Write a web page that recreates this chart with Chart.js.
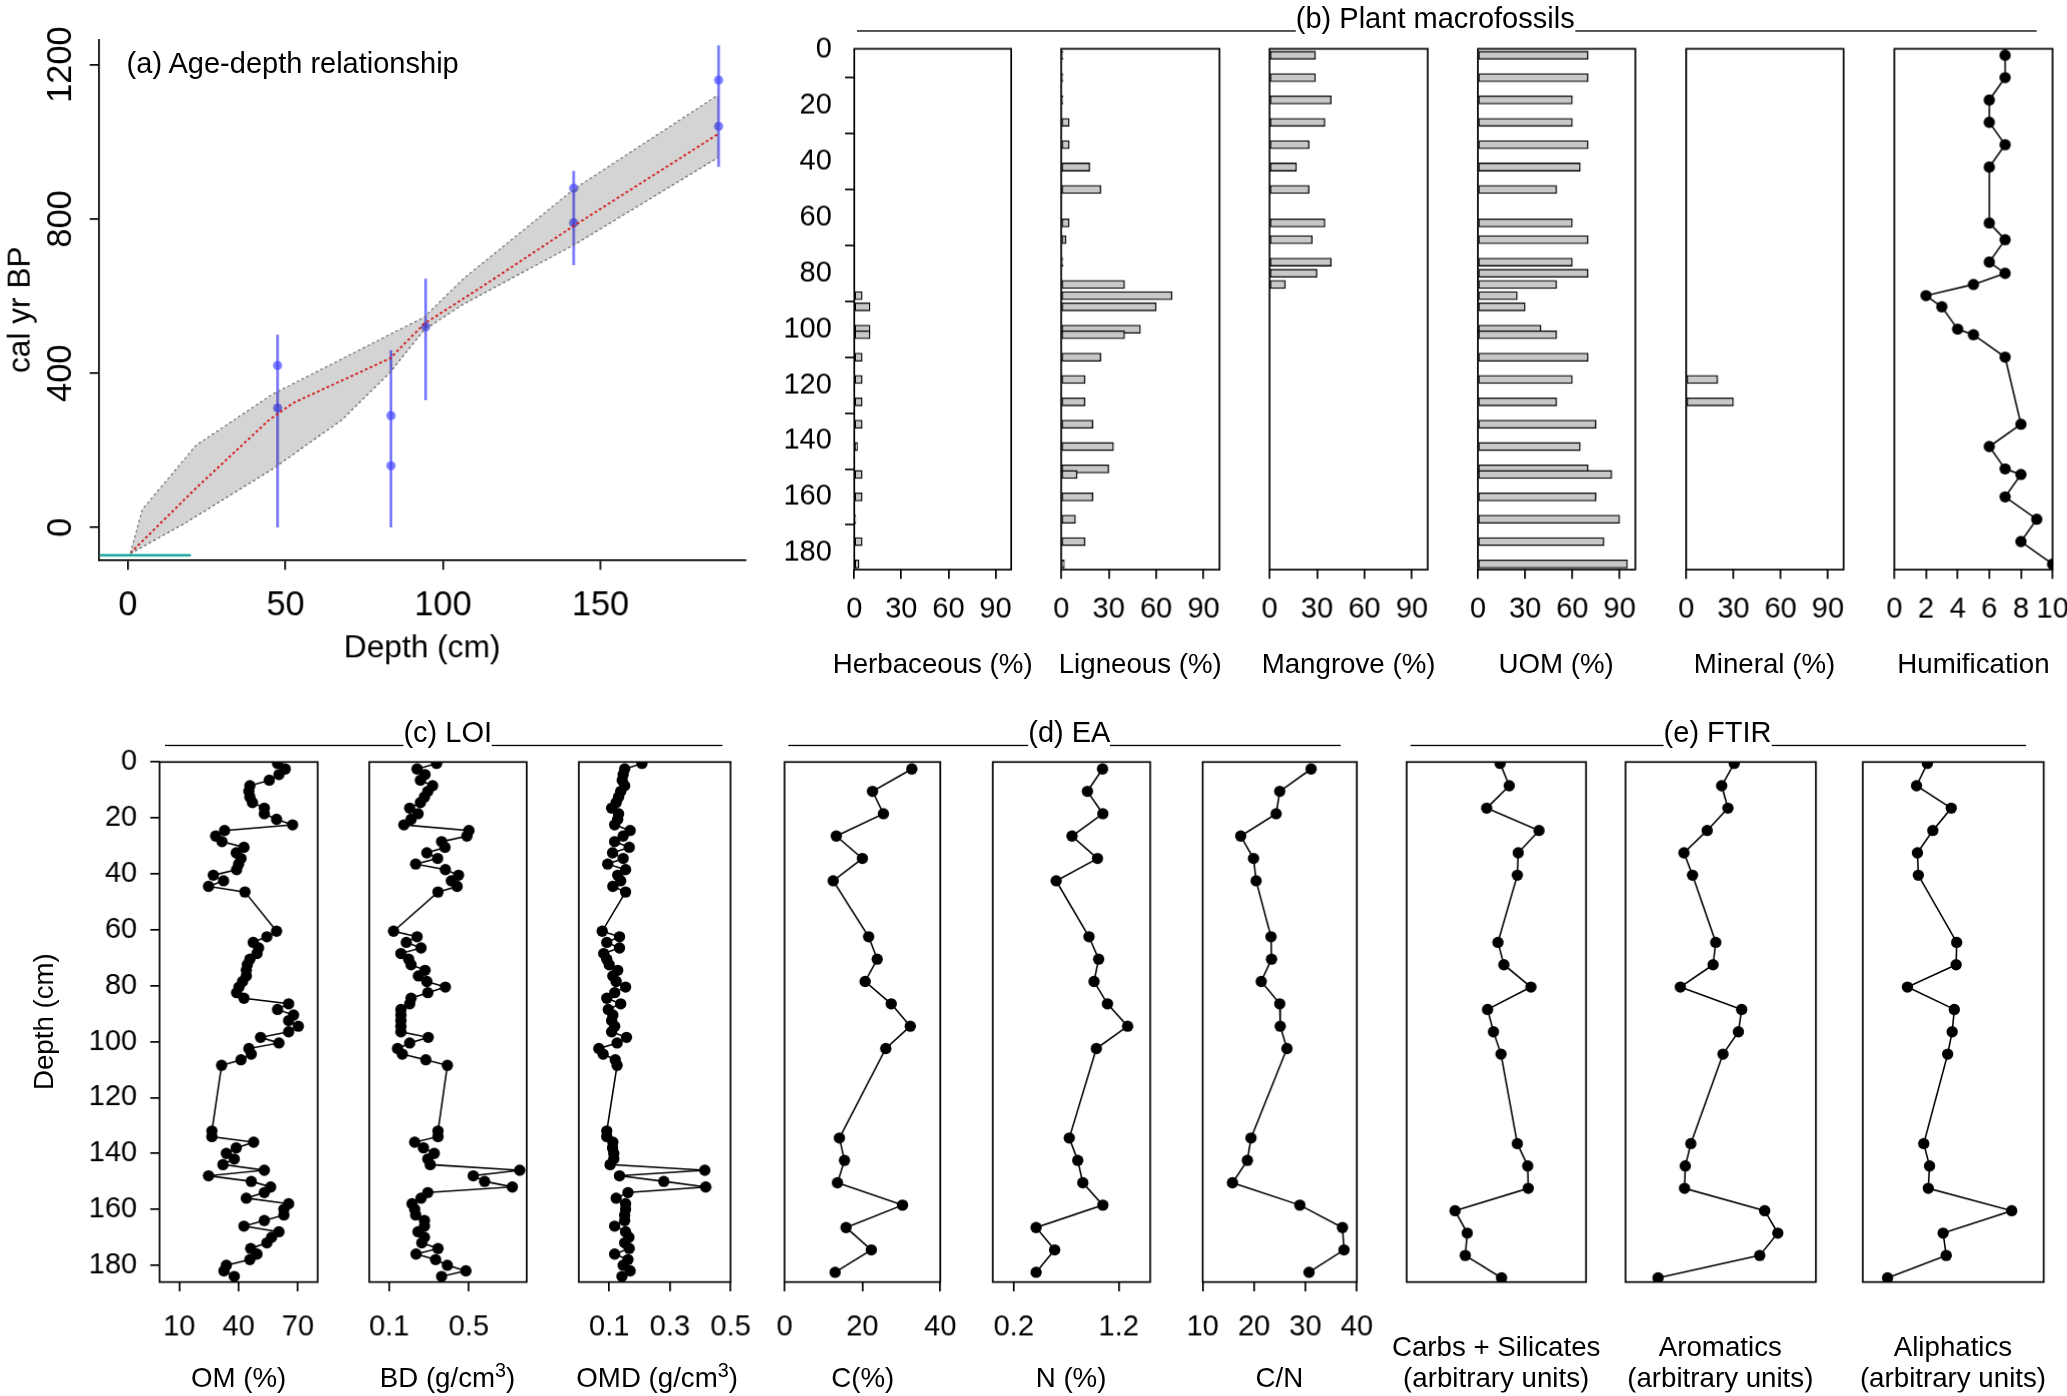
<!DOCTYPE html>
<html>
<head>
<meta charset="utf-8">
<script src="https://cdn.jsdelivr.net/npm/chart.js@4.4.1/dist/chart.umd.min.js"></script>
<style>
  body { margin: 0; background: #fff; overflow: hidden; }
  #fig { position: absolute; left: 0; top: 0; width: 1568px; height: 1060px; transform-origin: 0 0; font-family: "Liberation Sans", Arial, sans-serif; }
  #fig canvas { position: absolute; }
  .sec { position: absolute; display: flex; align-items: flex-end; height: 28px; font-size: 22px; line-height: 28px; }
  .sec .ln { border-bottom: 1.5px solid #000; margin-bottom: 4px; height: 0; }
  .lbl { position: absolute; font-size: 21px; line-height: 23px; white-space: nowrap; text-align: center; transform: translate(-50%, -50%); }
  .lbl sup { font-size: 15px; line-height: 0; }
</style>
</head>
<body>
<div id="fig"></div>
<script>
// ---- (a) age-depth model ----
const meanDepth = [0.8, 21.6, 44.8, 52.5, 83.3, 94, 114, 141.7, 187.5];
const meanAge = [-66, 102, 279, 323, 439, 528, 633, 783, 1021];
const upperDepth = [0.8, 4.6, 21.6, 46, 83, 94, 106.5, 141.7, 187.5];
const upperAge = [-66, 47, 213, 346, 500, 545, 645, 878, 1122];
const lowerDepth = [0.8, 18.5, 46, 67.9, 83, 94, 106.5, 141.7, 187.5];
const lowerAge = [-68, 13, 152, 279, 400, 512, 579, 733, 960];
const dateDepth = [47.5, 83.5, 94.5, 141.5, 187.5];
const dateMin = [0, 0, 330, 680, 935];
const dateMax = [500, 460, 645, 925, 1250];
const blobDepth = [47.5, 47.5, 83.5, 83.5, 94.5, 141.5, 141.5, 187.5, 187.5];
const blobAge = [310, 420, 160, 290, 520, 790, 880, 1040, 1160];
const surfaceDepth = [-9, 20];
const surfaceAge = [-72, -72];
const ageTicks = [0, 400, 800, 1200];
const depthTicksA = [0, 50, 100, 150];

// ---- (b) plant macrofossils ----
const macroDepth = [2, 10, 18, 26, 34, 42, 50, 62, 68, 76, 80, 84, 88, 92, 100, 102, 110, 118, 126, 134, 142, 150, 152, 160, 168, 176, 184];
const herbaceous = [0, 0, 0, 0, 0, 0, 0, 0, 0, 0, 0, 0, 5, 10, 10, 10, 5, 5, 5, 5, 2, 0, 5, 5, 1, 5, 3];
const ligneous = [1, 1, 1, 5, 5, 18, 25, 5, 3, 1, 0, 40, 70, 60, 50, 40, 25, 15, 15, 20, 33, 30, 10, 20, 9, 15, 2];
const mangrove = [29, 29, 39, 35, 25, 17, 25, 35, 27, 39, 30, 10, 0, 0, 0, 0, 0, 0, 0, 0, 0, 0, 0, 0, 0, 0, 0];
const uom = [70, 70, 60, 60, 70, 65, 50, 60, 70, 60, 70, 50, 25, 30, 40, 50, 70, 60, 50, 75, 65, 70, 85, 75, 90, 80, 95];
const mineral = [0, 0, 0, 0, 0, 0, 0, 0, 0, 0, 0, 0, 0, 0, 0, 0, 0, 20, 30, 0, 0, 0, 0, 0, 0, 0, 0];
const humDepth = [2, 10, 18, 26, 34, 42, 62, 68, 76, 80, 84, 88, 92, 100, 102, 110, 134, 142, 150, 152, 160, 168, 176, 184];
const humification = [7, 7, 6, 6, 7, 6, 6, 7, 6, 7, 5, 2, 3, 4, 5, 7, 8, 6, 7, 8, 7, 9, 8, 10];
const pctTicks = [0, 30, 60, 90];
const humTicks = [0, 2, 4, 6, 8, 10];
const depthTicks = [0, 20, 40, 60, 80, 100, 120, 140, 160, 180];

// ---- (c) LOI ----
const loiDepth = [0.5, 2.5, 4.5, 6.5, 8.5, 10.5, 12.5, 14.5, 16.5, 18.5, 20.5, 22.5, 24.5, 26.5, 28.5, 30.5, 32.5, 34.5, 36.5, 38.5, 40.5, 42.5, 44.5, 46.5,
  60.5, 62.5, 64.5, 66.5, 68.5, 70.5, 72.5, 74.5, 76.5, 78.5, 80.5, 82.5, 84.5, 86.5, 88.5, 90.5, 92.5, 94.5, 96.5, 98.5, 100.5, 102.5, 104.5, 106.5, 108.5,
  132, 134, 136, 138, 140, 142, 144, 146, 148, 150, 152, 154, 156, 158, 160, 162, 164, 166, 168, 170, 172, 174, 176, 178, 180, 182, 184];
const om = [59.7, 63.6, 60.4, 55.5, 45.7, 45.2, 45.7, 47, 53, 53, 59.2, 67.3, 32.9, 28.4, 31.6, 42.7, 38.8, 41.2, 40, 39, 27.2, 32.4, 24.8, 43.2,
  59.2, 54.3, 47.4, 50.1, 49.3, 45.7, 44.4, 43.9, 43.9, 42, 40.2, 39, 42.7, 65.3, 59.7, 67.8, 65.3, 70.2, 65.3, 51.1, 60.4, 45.2, 46.4, 41.2, 31.4,
  26.5, 26.5, 47.6, 38.8, 33.8, 37.8, 32.1, 53, 24.8, 46.4, 56.2, 53, 43.9, 65.3, 62.9, 62.9, 53, 42.7, 60.4, 56.7, 54.3, 46.1, 49.3, 45.7, 33.8, 32.6, 37.8];
const bd = [0.338, 0.24, 0.28, 0.257, 0.318, 0.294, 0.277, 0.257, 0.203, 0.245, 0.21, 0.174, 0.5, 0.49, 0.363, 0.38, 0.289, 0.343, 0.233, 0.382, 0.448, 0.412, 0.441, 0.345,
  0.122, 0.24, 0.186, 0.26, 0.159, 0.198, 0.21, 0.28, 0.247, 0.289, 0.382, 0.294, 0.21, 0.203, 0.159, 0.159, 0.159, 0.159, 0.159, 0.296, 0.203, 0.142, 0.166, 0.284, 0.392,
  0.345, 0.345, 0.228, 0.272, 0.326, 0.294, 0.306, 0.755, 0.522, 0.579, 0.718, 0.294, 0.26, 0.215, 0.228, 0.233, 0.277, 0.277, 0.245, 0.277, 0.264, 0.345, 0.235, 0.333, 0.392, 0.485, 0.363];
const omd = [0.208, 0.151, 0.146, 0.143, 0.151, 0.138, 0.131, 0.123, 0.108, 0.131, 0.128, 0.118, 0.169, 0.146, 0.118, 0.166, 0.111, 0.146, 0.095, 0.154, 0.128, 0.138, 0.112, 0.154,
  0.077, 0.134, 0.092, 0.134, 0.082, 0.092, 0.1, 0.128, 0.112, 0.123, 0.154, 0.118, 0.092, 0.138, 0.097, 0.112, 0.108, 0.118, 0.108, 0.157, 0.126, 0.066, 0.08, 0.12, 0.126,
  0.092, 0.092, 0.112, 0.111, 0.115, 0.115, 0.103, 0.415, 0.134, 0.28, 0.418, 0.162, 0.123, 0.154, 0.154, 0.151, 0.151, 0.118, 0.154, 0.165, 0.151, 0.166, 0.118, 0.162, 0.146, 0.169, 0.142];

// ---- (d) EA ----
const eaDepth = [2.5, 10.5, 18.5, 26.5, 34.5, 42.5, 62.5, 70.5, 78.5, 86.5, 94.5, 102.5, 134.5, 142.5, 150.5, 158.5, 166.5, 174.5, 182.5];
const carbon = [32.7, 22.6, 25.4, 13.3, 20, 12.5, 21.6, 23.8, 20.7, 27.4, 32.3, 26, 14.1, 15.4, 13.6, 30.3, 15.8, 22.3, 13];
const nitrogen = [1.046, 0.902, 1.049, 0.755, 0.998, 0.604, 0.917, 1.009, 0.965, 1.093, 1.285, 0.987, 0.729, 0.81, 0.858, 1.049, 0.413, 0.59, 0.413];
const cnRatio = [31.1, 25, 24.3, 17.4, 19.9, 20.4, 23.3, 23.4, 21.4, 25, 25.1, 26.4, 19.4, 18.7, 15.8, 28.9, 37.2, 37.5, 30.7];

// ---- (e) FTIR ----
const ftirDepth = [0.5, 8.5, 16.5, 24.5, 32.5, 40.5, 64.5, 72.5, 80.5, 88.5, 96.5, 104.5, 136.5, 144.5, 152.5, 160.5, 168.5, 176.5, 184.5];
const carbsSilicates = [52.1, 57.2, 44.6, 73.8, 62.2, 61.7, 50.9, 54.2, 69.3, 45.1, 48.4, 52.6, 61.7, 67.5, 67.8, 27, 33.8, 32.7, 52.9];
const aromatics = [57.1, 50.5, 53.8, 42.9, 30.7, 35.2, 47.4, 46, 28.8, 61, 59.3, 51.2, 34.3, 31.4, 31, 73.1, 80, 70.5, 17.1];
const aliphatics = [35.7, 29.7, 48.9, 38.7, 30.2, 30.7, 51.9, 51.6, 24.7, 50.6, 49.4, 46.9, 33.7, 36.9, 36.2, 82.3, 44.4, 46.1, 13.7];

// layout is written in a 1568 x 1060 frame and scaled up to the window
const S = 2067 / 1568;
const DPR = S * (window.devicePixelRatio || 1);
const fig = document.getElementById('fig');
fig.style.transform = 'scale(' + S + ')';
Chart.defaults.font.family = '"Liberation Sans", Arial, sans-serif';
Chart.defaults.color = '#000';
Chart.defaults.animation = false;

const zip = (ys, xs) => xs.map((v, i) => ({ x: v, y: ys[i] }));
const fixedTicks = arr => s => { s.ticks = arr.map(v => ({ value: v })); };

const frame = {
  id: 'frame',
  afterDraw(chart, args, opts) {
    if (!opts.on) return;
    const a = chart.chartArea, ctx = chart.ctx;
    ctx.save();
    ctx.strokeStyle = '#000';
    ctx.lineWidth = 1.3;
    ctx.strokeRect(a.left, a.top, a.right - a.left, a.bottom - a.top);
    ctx.restore();
  }
};

// R-style y tick labels, turned to read upwards
const uprightY = {
  id: 'uprightY',
  afterDraw(chart, args, opts) {
    if (!opts.on) return;
    const y = chart.scales.y, ctx = chart.ctx;
    ctx.save();
    ctx.font = '26px "Liberation Sans", Arial, sans-serif';
    ctx.fillStyle = '#000';
    ctx.textAlign = 'center';
    ctx.textBaseline = 'middle';
    y.ticks.forEach(t => {
      ctx.save();
      ctx.translate(opts.x, y.getPixelForValue(t.value));
      ctx.rotate(-Math.PI / 2);
      ctx.fillText(String(t.value), 0, 0);
      ctx.restore();
    });
    ctx.restore();
  }
};

function addCanvas(left, top, w, h) {
  const c = document.createElement('canvas');
  c.style.left = left + 'px';
  c.style.top = top + 'px';
  c.style.width = w + 'px';
  c.style.height = h + 'px';
  c.width = w; c.height = h;
  fig.appendChild(c);
  return c;
}

function lbl(cx, cy, html, size) {
  const d = document.createElement('div');
  d.className = 'lbl';
  d.style.left = cx + 'px';
  d.style.top = cy + 'px';
  if (size) d.style.fontSize = size + 'px';
  d.innerHTML = html;
  fig.appendChild(d);
}

function sec(x1, x2, y, text, leftLen) {
  const d = document.createElement('div');
  d.className = 'sec';
  d.style.left = x1 + 'px';
  d.style.top = y + 'px';
  d.style.width = (x2 - x1) + 'px';
  d.innerHTML = '<div class="ln" style="width:' + leftLen + 'px"></div><span>' + text + '</span><div class="ln" style="flex:1"></div>';
  fig.appendChild(d);
}

// one depth profile panel, box = [left, top, right, bottom]
function profile(p) {
  const [x1, y1, x2, y2] = p.box;
  const L = p.L || 25, R = 25, T = 26, B = 60;
  const c = addCanvas(x1 - L, y1 - T, x2 - x1 + L + R, y2 - y1 + T + B);
  const isBar = p.kind === 'bar';
  const showY = !!p.yLabels;
  new Chart(c, {
    type: isBar ? 'bar' : 'scatter',
    data: { datasets: p.datasets },
    options: {
      responsive: false,
      devicePixelRatio: DPR,
      indexAxis: isBar ? 'y' : 'x',
      layout: { padding: { left: 0, right: R, top: T, bottom: 0 } },
      plugins: { legend: { display: false }, tooltip: { enabled: false }, frame: { on: true } },
      scales: {
        x: {
          type: 'linear', min: p.xMin, max: p.xMax, offset: false,
          afterBuildTicks: fixedTicks(p.xTicks),
          afterFit: s => { s.height = B; },
          grid: { drawOnChartArea: false, drawTicks: p.xTicks.length > 0, tickLength: 7, color: '#000', lineWidth: 1.3 },
          border: { display: false },
          ticks: { display: p.xTicks.length > 0, font: { size: 22 }, padding: p.tickPad, maxRotation: 0, autoSkip: false }
        },
        y: {
          type: 'linear', reverse: true, min: p.yMin, max: 186, offset: false,
          afterBuildTicks: fixedTicks(depthTicks),
          afterFit: s => { s.width = L; },
          grid: { display: showY, drawOnChartArea: false, tickLength: 7, color: '#000', lineWidth: 1.3 },
          border: { display: false },
          ticks: { display: showY, font: { size: 22 }, padding: 10, autoSkip: false }
        }
      }
    },
    plugins: [frame]
  });
  lbl((x1 + x2) / 2, p.titleY, p.xTitle);
}

function bars(depths, values) {
  return [{
    data: zip(depths, values).filter(d => d.x > 0),
    backgroundColor: '#c8c8c8', borderColor: '#000', borderWidth: 1,
    barThickness: 6, borderSkipped: false
  }];
}
function dots(depths, values) {
  return [{
    data: zip(depths, values), showLine: true,
    borderColor: '#000', borderWidth: 1.2,
    pointRadius: 4.3, pointBackgroundColor: '#000', pointBorderWidth: 0
  }];
}

// ---- panel (a) ----
(function () {
  const c = addCanvas(0, 0, 580, 510);
  const ds = [
    { data: zip(upperAge, upperDepth), showLine: true, pointRadius: 0, borderColor: '#777', borderWidth: 1, borderDash: [2, 2], fill: '+1', backgroundColor: 'rgba(0,0,0,0.17)' },
    { data: zip(lowerAge, lowerDepth), showLine: true, pointRadius: 0, borderColor: '#777', borderWidth: 1, borderDash: [2, 2] },
    { data: zip(meanAge, meanDepth), showLine: true, pointRadius: 0, borderColor: '#ff2020', borderWidth: 1.5, borderDash: [2, 2] }
  ];
  dateDepth.forEach((d, i) => {
    ds.push({ data: [{ x: d, y: dateMin[i] }, { x: d, y: dateMax[i] }], showLine: true, pointRadius: 0, borderColor: 'rgba(70,70,255,0.75)', borderWidth: 2 });
  });
  ds.push({ data: zip(blobAge, blobDepth), pointRadius: 3.5, pointBackgroundColor: 'rgba(70,70,255,0.7)', pointBorderWidth: 0 });
  ds.push({ data: zip(surfaceAge, surfaceDepth), showLine: true, pointRadius: 0, borderColor: '#20a8a0', borderWidth: 2 });
  new Chart(c, {
    type: 'scatter',
    data: { datasets: ds },
    options: {
      responsive: false,
      devicePixelRatio: DPR,
      layout: { padding: { left: 0, right: 15, top: 30, bottom: 0 } },
      plugins: { legend: { display: false }, tooltip: { enabled: false }, uprightY: { on: true, x: 47 } },
      scales: {
        x: {
          type: 'linear', min: -9.2, max: 196,
          afterBuildTicks: fixedTicks(depthTicksA),
          afterFit: s => { s.height = 85; },
          grid: { drawOnChartArea: false, tickLength: 7, color: '#000', lineWidth: 1.3 },
          border: { display: true, color: '#000', width: 1.3 },
          ticks: { font: { size: 26 }, padding: 12, maxRotation: 0 },
          title: { display: true, text: 'Depth (cm)', font: { size: 24 }, padding: { top: 0 } }
        },
        y: {
          type: 'linear', min: -85.5, max: 1265,
          afterBuildTicks: fixedTicks(ageTicks),
          afterFit: s => { s.width = 75; },
          grid: { drawOnChartArea: false, tickLength: 7, color: '#000', lineWidth: 1.3 },
          border: { display: true, color: '#000', width: 1.3 },
          ticks: { display: false },
          title: { display: false }
        }
      }
    },
    plugins: [uprightY]
  });
  lbl(222, 48, '(a) Age-depth relationship', 22);
  const yt = document.createElement('div');
  yt.className = 'lbl';
  yt.style.left = '14px'; yt.style.top = '235px'; yt.style.fontSize = '24px';
  yt.style.transform = 'translate(-50%, -50%) rotate(-90deg)';
  yt.textContent = 'cal yr BP';
  fig.appendChild(yt);
})();

// ---- panel (b) ----
const topRow = { yMin: -0.3, tickPad: 10, titleY: 503 };
profile({ ...topRow, box: [648, 37, 767, 432], L: 70, yLabels: true, kind: 'bar', xMin: 0, xMax: 100, xTicks: pctTicks, xTitle: 'Herbaceous (%)', datasets: bars(macroDepth, herbaceous) });
profile({ ...topRow, box: [805, 37, 925, 432], kind: 'bar', xMin: 0, xMax: 100, xTicks: pctTicks, xTitle: 'Ligneous (%)', datasets: bars(macroDepth, ligneous) });
profile({ ...topRow, box: [963, 37, 1083, 432], kind: 'bar', xMin: 0, xMax: 100, xTicks: pctTicks, xTitle: 'Mangrove (%)', datasets: bars(macroDepth, mangrove) });
profile({ ...topRow, box: [1121, 37, 1240, 432], kind: 'bar', xMin: 0, xMax: 100, xTicks: pctTicks, xTitle: 'UOM (%)', datasets: bars(macroDepth, uom) });
profile({ ...topRow, box: [1279, 37, 1398, 432], kind: 'bar', xMin: 0, xMax: 100, xTicks: pctTicks, xTitle: 'Mineral (%)', datasets: bars(macroDepth, mineral) });
profile({ ...topRow, box: [1437, 37, 1557, 432], xMin: 0, xMax: 10, xTicks: humTicks, xTitle: 'Humification', datasets: dots(humDepth, humification) });
sec(650, 1545, 0, '(b) Plant macrofossils', 333);

// ---- panels (c), (d), (e) ----
const lowRow = { yMin: 0, tickPad: 14, titleY: 1045 };
profile({ ...lowRow, box: [121, 578, 241, 972], L: 100, yLabels: true, xMin: 0, xMax: 80, xTicks: [10, 40, 70], xTitle: 'OM (%)', datasets: dots(loiDepth, om) });
profile({ ...lowRow, box: [280, 578, 399, 972], xMin: 0, xMax: 0.79, xTicks: [0.1, 0.5], xTitle: 'BD (g/cm<sup>3</sup>)', datasets: dots(loiDepth, bd) });
profile({ ...lowRow, box: [439, 578, 558, 972], xMin: 0, xMax: 0.5, xTicks: [0.1, 0.3, 0.5], xTitle: 'OMD (g/cm<sup>3</sup>)', datasets: dots(loiDepth, omd) });
profile({ ...lowRow, box: [595, 578, 714, 972], xMin: 0, xMax: 40, xTicks: [0, 20, 40], xTitle: 'C(%)', datasets: dots(eaDepth, carbon) });
profile({ ...lowRow, box: [753, 578, 872, 972], xMin: 0, xMax: 1.5, xTicks: [0.2, 1.2], xTitle: 'N (%)', datasets: dots(eaDepth, nitrogen) });
profile({ ...lowRow, box: [911, 578, 1030, 972], xMin: 10, xMax: 40, xTicks: [10, 20, 30, 40], xTitle: 'C/N', datasets: dots(eaDepth, cnRatio) });
const ftirRow = { yMin: 0, tickPad: 14, titleY: 1033 };
profile({ ...ftirRow, box: [1067, 578, 1203, 972], xMin: 0, xMax: 100, xTicks: [], xTitle: 'Carbs + Silicates<br>(arbitrary units)', datasets: dots(ftirDepth, carbsSilicates) });
profile({ ...ftirRow, box: [1233, 578, 1377, 972], xMin: 0, xMax: 100, xTicks: [], xTitle: 'Aromatics<br>(arbitrary units)', datasets: dots(ftirDepth, aromatics) });
profile({ ...ftirRow, box: [1413, 578, 1550, 972], xMin: 0, xMax: 100, xTicks: [], xTitle: 'Aliphatics<br>(arbitrary units)', datasets: dots(ftirDepth, aliphatics) });
lbl(33, 775, '<div style="transform: rotate(-90deg)">Depth (cm)</div>');
sec(125, 548, 542, '(c) LOI', 181);
sec(598, 1017, 542, '(d) EA', 182);
sec(1070, 1537, 542, '(e) FTIR', 192);
</script>
</body>
</html>
